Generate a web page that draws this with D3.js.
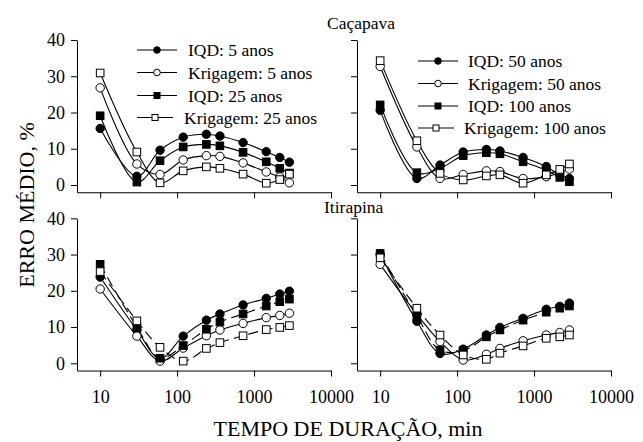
<!DOCTYPE html>
<html>
<head>
<meta charset="utf-8">
<script src="https://cdn.jsdelivr.net/npm/d3@7"></script>
<style>
  body { margin: 0; background: #fff; }
  svg { display: block; }
  text { fill: #000; }
  .axis text { font-size: 18px; }
  .axis path, .axis line { stroke: #000; stroke-width: 1; }
</style>
</head>
<body>
<svg id="chart" width="643" height="442"></svg>
<script>
// durations (min) shared by every series
var durations = [10, 30, 60, 120, 240, 360, 720, 1440, 2160, 2880];
var xTicks = [10, 100, 1000, 10000];
var yTicks = [0, 10, 20, 30, 40];

// Caçapava, 5 and 25 anos
var cacIqd5 = [15.6, 2.4, 9.6, 13.2, 14.0, 13.5, 11.7, 9.2, 7.6, 6.3];
var cacKrig5 = [26.8, 5.8, 2.9, 6.9, 8.1, 7.9, 6.1, 3.6, 2.2, 0.6];
var cacIqd25 = [19.1, 0.8, 6.7, 10.5, 11.2, 10.8, 9.0, 6.4, 4.6, 3.3];
var cacKrig25 = [30.9, 9.1, 0.6, 3.9, 5.0, 4.6, 3.0, 0.5, 1.5, 3.0];

// Caçapava, 50 and 100 anos
var cacIqd50 = [20.6, 1.8, 5.5, 9.1, 9.8, 9.4, 7.6, 5.1, 2.7, 1.8];
var cacKrig50 = [32.7, 10.5, 1.8, 2.9, 3.9, 3.7, 1.8, 2.3, 3.4, 4.4];
var cacIqd100 = [22.1, 3.4, 4.6, 8.1, 8.9, 8.6, 6.4, 4.1, 2.1, 0.9];
var cacKrig100 = [34.3, 12.2, 3.2, 1.4, 2.5, 2.8, 0.5, 2.8, 4.3, 5.8];

// Itirapina, 5 and 25 anos
var itiIqd5 = [23.8, 9.2, 1.3, 7.5, 11.9, 13.6, 16.1, 17.9, 19.1, 19.9];
var itiKrig5 = [20.5, 7.5, 0.6, 4.2, 7.6, 9.2, 11.0, 12.6, 13.2, 13.8];
var itiIqd25 = [27.3, 10.0, 1.4, 4.9, 9.4, 11.4, 13.6, 15.8, 17.0, 17.7];
var itiKrig25 = [25.3, 11.7, 4.4, 0.6, 4.1, 5.7, 7.6, 9.3, 9.9, 10.4];

// Itirapina, 50 and 100 anos
var itiIqd50 = [30.1, 11.6, 2.7, 3.9, 7.8, 9.9, 12.4, 14.9, 15.7, 16.6];
var itiKrig50 = [27.3, 13.5, 6.0, 0.9, 2.5, 4.1, 6.2, 7.8, 8.5, 9.2];
var itiIqd100 = [30.3, 13.1, 3.6, 3.5, 7.3, 9.2, 11.9, 14.1, 15.2, 15.8];
var itiKrig100 = [29.1, 15.2, 7.8, 2.3, 1.1, 2.8, 4.8, 6.9, 7.3, 7.8];

var labelsA = ["IQD: 5 anos", "Krigagem: 5 anos", "IQD: 25 anos", "Krigagem: 25 anos"];
var labelsB = ["IQD: 50 anos", "Krigagem: 50 anos", "IQD: 100 anos", "Krigagem: 100 anos"];

// marker style per series slot: filled circle, open circle, filled square, open square
var markerKinds = [
    { shape: "circle", fill: "#000" },
    { shape: "circle", fill: "#fff" },
    { shape: "square", fill: "#000" },
    { shape: "square", fill: "#fff" }
];

var serif = "Liberation Serif, Tinos, Nimbus Roman, Nimbus Roman No9 L, FreeSerif, Noto Serif, DejaVu Serif, Times New Roman, Times, serif";
var svg = d3.select("#chart").attr("font-family", serif);

var panels = [
    { left: 77, top: 40, bottom: 185, series: [cacIqd5, cacKrig5, cacIqd25, cacKrig25], labels: labelsA,
      yLabels: true, xLabels: false, dashed: false,
      legend: { lineX0: 137, lineX1: 177, textX: 188, rows: [50, 72.5, 95.5, 117.5] } },
    { left: 357, top: 40, bottom: 185, series: [cacIqd50, cacKrig50, cacIqd100, cacKrig100], labels: labelsB,
      yLabels: false, xLabels: false, dashed: false,
      legend: { lineX0: 418, lineX1: 458, textX: 468, rows: [61, 83.5, 106, 128] } },
    { left: 77, top: 218.3, bottom: 363.3, series: [itiIqd5, itiKrig5, itiIqd25, itiKrig25], labels: null,
      yLabels: true, xLabels: true, dashed: true },
    { left: 357, top: 218.3, bottom: 363.3, series: [itiIqd50, itiKrig50, itiIqd100, itiKrig100], labels: null,
      yLabels: false, xLabels: true, dashed: true }
];

function drawMarker(g, kind, cx, cy, r, side) {
    if (kind.shape === "circle") {
        g.append("circle").attr("cx", cx).attr("cy", cy).attr("r", r)
            .attr("fill", kind.fill).attr("stroke", "#000").attr("stroke-width", 1);
    } else {
        g.append("rect").attr("x", cx - side / 2).attr("y", cy - side / 2)
            .attr("width", side).attr("height", side)
            .attr("fill", kind.fill).attr("stroke", "#000").attr("stroke-width", 1);
    }
}

panels.forEach(function (p) {
    var unit = (p.bottom - p.top) / 40;
    var y = d3.scaleLinear().domain([-2, 40]).range([p.bottom + 2 * unit, p.top]);
    var x = d3.scaleLog().domain([5, 10000]).range([p.left, p.left + 254]);

    var g = svg.append("g");

    var yAxis = d3.axisLeft(y).tickValues(yTicks).tickSize(6).tickSizeOuter(0).tickPadding(6);
    if (!p.yLabels) yAxis.tickFormat("");
    g.append("g").attr("class", "axis")
        .attr("transform", "translate(" + p.left + ",0)")
        .call(yAxis)
        .attr("font-family", serif);

    var xAxis = d3.axisBottom(x).tickValues(xTicks).tickSize(6).tickSizeOuter(0).tickPadding(14)
        .tickFormat(d3.format("d"));
    if (!p.xLabels) xAxis.tickFormat("");
    g.append("g").attr("class", "axis")
        .attr("transform", "translate(0," + y(-2) + ")")
        .call(xAxis)
        .attr("font-family", serif);

    var line = d3.line()
        .x(function (d, i) { return x(durations[i]); })
        .y(function (d) { return y(d); })
        .curve(d3.curveCatmullRom);

    // lines first, markers on top
    p.series.forEach(function (vals, si) {
        g.append("path")
            .attr("d", line(vals))
            .attr("fill", "none")
            .attr("stroke", "#000")
            .attr("stroke-width", 1.1)
            .attr("stroke-dasharray", p.dashed && si >= 2 ? "10,5" : null);
    });
    p.series.forEach(function (vals, si) {
        vals.forEach(function (v, i) {
            drawMarker(g, markerKinds[si], x(durations[i]), y(v), 4.2, 7.6);
        });
    });

    if (p.legend) {
        var L = p.legend;
        p.labels.forEach(function (lab, i) {
            var cy = L.rows[i];
            var shift = i === 3 ? -4 : 0;
            g.append("line")
                .attr("x1", L.lineX0).attr("x2", L.lineX1 + shift)
                .attr("y1", cy).attr("y2", cy)
                .attr("stroke", "#000").attr("stroke-width", 1.1);
            drawMarker(g, markerKinds[i], (L.lineX0 + L.lineX1) / 2 + shift / 2, cy, 3.3, 6);
            g.append("text")
                .attr("x", L.textX + shift).attr("y", cy)
                .attr("dy", "0.35em")
                .attr("font-size", 17.5)
                .text(lab);
        });
    }
});

// panel titles
svg.append("text").attr("x", 327).attr("y", 28.5).attr("font-size", 17.5).text("Caçapava");
svg.append("text").attr("x", 324).attr("y", 213).attr("font-size", 17.5).text("Itirapina");

// axis titles
svg.append("text")
    .attr("transform", "translate(34,205) rotate(-90)")
    .attr("text-anchor", "middle")
    .attr("font-size", 22)
    .text("ERRO MÉDIO, %");

svg.append("text")
    .attr("x", 348).attr("y", 436)
    .attr("text-anchor", "middle")
    .attr("font-size", 22)
    .text("TEMPO DE DURAÇÃO, min");
</script>
</body>
</html>
